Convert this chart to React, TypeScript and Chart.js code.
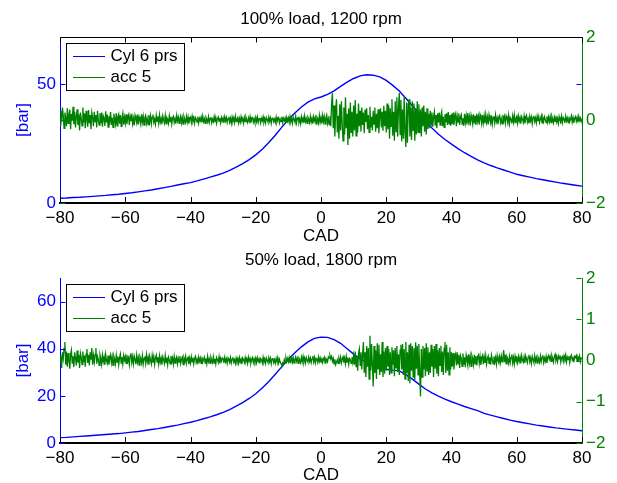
import React, { useEffect, useRef } from "react";
import { Chart, registerables } from "chart.js";

Chart.register(...registerables);

const FONT = '"Liberation Sans", Arial, Helvetica, sans-serif';
const BLUE = "#0000ff";
const GREEN = "#008000";

// ---------- data ----------
const panelTitles = ["100% load, 1200 rpm", "50% load, 1800 rpm"];
const seriesLabels = ["Cyl 6 prs", "acc 5"];
const xTitle = "CAD";
const yTitle = "[bar]";
const xTicks = [-80, -60, -40, -20, 0, 20, 40, 60, 80];
const leftTicksTop = [0, 50];
const leftTicksBottom = [0, 20, 40, 60];
const rightTicksTop = [-2, 0, 2];
const rightTicksBottom = [-2, -1, 0, 1, 2];

// crank angle grids (pressure every 2 deg, accelerometer every 0.25 deg)
const pressureCad = Array.from({ length: 81 }, (_, i) => -80 + 2 * i);
const accCad = Array.from({ length: 641 }, (_, i) => -80 + 0.25 * i);

const pressureTop = [
  2.0, 2.1, 2.3, 2.4, 2.6, 2.8, 3.0, 3.2, 3.5, 3.7,
  4.0, 4.3, 4.7, 5.1, 5.5, 6.0, 6.5, 7.0, 7.6, 8.1,
  8.6, 9.3, 10.1, 10.9, 11.7, 12.6, 13.8, 15.1, 16.6, 18.3,
  20.3, 22.7, 25.5, 28.6, 32.0, 35.2, 38.0, 40.5, 42.5, 43.9,
  44.7, 45.8, 47.3, 49.2, 51.0, 52.5, 53.6, 54.1, 53.9, 53.2,
  51.7, 49.6, 47.2, 44.2, 41.0, 37.8, 34.6, 31.6, 29.0, 26.8,
  24.8, 22.9, 21.2, 19.7, 18.2, 16.9, 15.8, 14.8, 13.9, 13.0,
  12.1, 11.5, 10.9, 10.3, 9.8, 9.3, 8.8, 8.3, 7.9, 7.5, 7.1,
];

const accTop = [
  -0.12, 0.22, -0.05, 0.30, 0.10, -0.20, 0.18, 0.05, -0.15, 0.28,
  -0.08, 0.12, 0.25, -0.22, 0.15, -0.02, 0.32, -0.10, 0.20, -0.18,
  0.08, 0.26, -0.12, 0.14, -0.25, 0.18, 0.04, -0.14, 0.30, -0.06,
  0.16, -0.20, 0.22, 0.02, -0.16, 0.24, -0.08, 0.12, -0.22, 0.18,
  0.06, -0.15, 0.20, -0.04, 0.12, -0.18, 0.22, 0.00, -0.12, 0.16,
  -0.08, 0.18, -0.16, 0.10, 0.04, -0.14, 0.21, -0.06, 0.13, -0.17,
  0.09, -0.02, 0.19, -0.12, 0.06, -0.18, 0.15, 0.03, -0.10, 0.17,
  -0.14, 0.08, 0.14, -0.09, 0.12, -0.15, 0.05, 0.16, -0.11, 0.07,
  -0.08, 0.14, -0.10, 0.06, 0.12, -0.12, 0.09, -0.03, 0.15, -0.09,
  0.04, -0.13, 0.11, 0.02, -0.07, 0.13, -0.11, 0.08, 0.01, -0.10,
  0.14, -0.05, 0.09, -0.12, 0.06, 0.11, -0.08, 0.03, -0.11, 0.12,
  -0.04, 0.10, -0.09, 0.07, 0.13, -0.06, 0.02, -0.10, 0.11, -0.03,
  0.09, -0.08, 0.12, -0.05, 0.04, -0.10, 0.10, 0.01, -0.07, 0.11,
  -0.09, 0.06, 0.02, -0.08, 0.10, -0.04, 0.08, -0.10, 0.05, 0.09,
  -0.06, 0.03, -0.09, 0.11, -0.02, 0.07, -0.08, 0.04, 0.10, -0.07,
  0.05, -0.10, 0.08, 0.00, -0.06, 0.09, -0.05, 0.07, -0.09, 0.04,
  0.07, -0.06, 0.09, -0.03, 0.05, -0.08, 0.06, 0.02, -0.05, 0.08,
  -0.07, 0.04, -0.02, 0.07, -0.06, 0.09, -0.04, 0.03, -0.08, 0.06,
  0.01, -0.05, 0.08, -0.06, 0.04, 0.07, -0.07, 0.02, -0.04, 0.08,
  -0.05, 0.06, -0.08, 0.03, 0.07, -0.03, 0.05, -0.07, 0.06, -0.02,
  0.05, -0.07, 0.08, -0.02, 0.06, -0.06, 0.03, 0.08, -0.05, 0.04,
  -0.08, 0.07, -0.03, 0.05, -0.06, 0.09, -0.04, 0.02, 0.06, -0.07,
  0.04, -0.05, 0.08, -0.02, 0.03, -0.08, 0.06, -0.04, 0.07, 0.00,
  -0.06, 0.05, -0.03, 0.08, -0.07, 0.04, 0.06, -0.05, 0.03, -0.06,
  0.06, -0.04, 0.07, -0.06, 0.03, 0.05, -0.07, 0.04, -0.02, 0.08,
  -0.05, 0.03, -0.07, 0.06, 0.01, -0.05, 0.07, -0.03, 0.05, -0.08,
  0.04, 0.06, -0.04, 0.02, -0.06, 0.07, -0.05, 0.03, 0.06, -0.07,
  0.02, -0.04, 0.08, -0.06, 0.04, -0.02, 0.05, -0.07, 0.06, -0.03,
  0.05, -0.06, 0.08, -0.04, 0.03, -0.08, 0.07, 0.01, -0.05, 0.09,
  -0.07, 0.04, 0.06, -0.06, 0.02, -0.09, 0.08, -0.03, 0.05, -0.07,
  0.10, -0.04, 0.03, -0.08, 0.07, 0.02, -0.06, 0.09, -0.05, 0.04,
  -0.09, 0.08, -0.02, 0.06, -0.10, 0.07, 0.03, -0.07, 0.11, -0.05,
  0.06, -0.09, 0.11, -0.04, 0.08, -0.10, 0.05, 0.12, -0.08, 0.03,
  -0.11, 0.09, -0.15, 0.40, 0.65, -0.20, 0.35, -0.40, 0.25, 0.50,
  -0.30, 0.10, -0.45, 0.38, -0.25, 0.45, -0.10, -0.50, 0.30, -0.35,
  0.55, -0.20, 0.15, -0.60, 0.28, -0.45, 0.42, -0.30, 0.20, -0.40,
  0.35, -0.25, 0.48, -0.38, 0.15, -0.30, 0.40, -0.15, 0.22, -0.28,
  0.30, -0.12, 0.18, -0.32, 0.25, -0.05, 0.28, -0.22, 0.12, -0.30,
  0.32, -0.18, 0.08, -0.25, 0.22, -0.10, 0.30, -0.28, 0.15, -0.20,
  0.26, -0.32, 0.10, 0.28, -0.18, 0.20, -0.26, 0.34, -0.15, 0.22,
  -0.30, 0.40, -0.22, 0.35, -0.45, 0.28, -0.15, 0.50, -0.38, 0.20,
  -0.50, 0.45, -0.28, 0.55, -0.40, 0.30, 0.65, -0.35, 0.48, -0.52,
  0.25, -0.45, 0.58, -0.30, -0.65, 0.42, -0.55, 0.38, 0.50, -0.40,
  0.30, -0.48, 0.45, -0.25, 0.40, -0.50, 0.28, -0.35, 0.45, -0.30,
  0.38, -0.32, 0.25, -0.40, 0.30, -0.15, 0.35, -0.28, 0.20, -0.35,
  0.28, -0.22, 0.15, -0.20, 0.22, -0.12, 0.18, -0.16, 0.08, 0.20,
  -0.14, 0.12, -0.20, 0.16, -0.06, 0.18, -0.12, 0.10, 0.20, -0.15,
  0.08, -0.18, 0.14, -0.05, 0.16, -0.12, 0.19, -0.09, 0.12, -0.14,
  0.15, -0.10, 0.18, -0.12, 0.06, 0.14, -0.15, 0.10, -0.05, 0.16,
  -0.12, 0.08, 0.13, -0.10, 0.04, -0.14, 0.15, -0.06, 0.10, -0.11,
  0.17, -0.04, 0.08, -0.13, 0.12, 0.02, -0.10, 0.14, -0.08, 0.10,
  -0.12, 0.15, -0.03, 0.09, -0.11, 0.13, 0.05, -0.09, 0.12, -0.07,
  0.10, -0.08, 0.13, -0.05, 0.07, -0.11, 0.12, 0.00, -0.08, 0.11,
  -0.10, 0.06, 0.09, -0.07, 0.12, -0.04, 0.05, -0.10, 0.08, 0.11,
  -0.06, 0.03, -0.09, 0.12, -0.02, 0.08, -0.08, 0.10, 0.04, -0.07,
  0.11, -0.09, 0.06, 0.02, -0.08, 0.10, -0.05, 0.12, -0.06, 0.04,
  0.09, -0.07, 0.10, -0.03, 0.06, -0.09, 0.08, 0.02, -0.06, 0.10,
  -0.08, 0.05, 0.11, -0.05, 0.03, -0.08, 0.09, -0.02, 0.07, -0.09,
  0.06, 0.10, -0.04, 0.05, -0.07, 0.09, -0.03, 0.08, -0.06, 0.02,
  0.10, -0.07, 0.05, -0.04, 0.08, 0.01, -0.06, 0.09, -0.05, 0.07,
  -0.04, 0.08, -0.06, 0.09, 0.02, -0.07, 0.07, -0.03, 0.10, -0.05,
  0.04, -0.08, 0.08, 0.00, -0.05, 0.09, -0.06, 0.06, 0.03, -0.07,
  0.09, -0.02, 0.05, -0.06, 0.08, -0.04, 0.02, 0.10, -0.05, 0.06,
  -0.07, 0.04, 0.08, -0.03, 0.06, -0.06, 0.09, -0.01, 0.05, -0.04,
  0.03,
];

const pressureBottom = [
  2.3, 2.4, 2.6, 2.8, 3.0, 3.2, 3.4, 3.6, 3.8, 4.0,
  4.3, 4.6, 4.9, 5.3, 5.7, 6.1, 6.6, 7.1, 7.6, 8.2,
  8.8, 9.5, 10.3, 11.1, 12.0, 13.0, 14.2, 15.6, 17.1, 18.9,
  20.9, 23.3, 26.1, 29.2, 32.4, 35.5, 38.3, 40.8, 42.9, 44.4,
  44.9, 44.8, 43.9, 42.3, 40.0, 37.7, 35.7, 34.2, 33.0, 32.0,
  31.3, 30.9, 30.6, 29.0, 27.1, 25.0, 22.9, 21.3, 19.9, 18.6,
  17.5, 16.5, 15.5, 14.6, 13.7, 12.6, 11.8, 11.1, 10.4, 9.7,
  9.1, 8.6, 8.1, 7.6, 7.2, 6.8, 6.4, 6.1, 5.8, 5.5, 5.2,
];

const accBottom = [
  -0.05, 0.12, -0.18, 0.20, 0.05, 0.30, 0.45, -0.10, 0.22, -0.15,
  0.18, 0.02, -0.20, 0.15, 0.25, -0.08, 0.10, -0.16, 0.20, 0.06,
  -0.12, 0.24, -0.05, 0.14, -0.18, 0.18, 0.08, -0.10, 0.22, -0.04,
  0.12, -0.15, 0.16, 0.28, -0.06, 0.14, -0.12, 0.20, 0.02, 0.30,
  -0.10, 0.12, -0.04, 0.15, 0.30, -0.08, 0.10, 0.02, -0.12, 0.14,
  0.05, -0.09, 0.13, -0.03, 0.08, -0.11, 0.15, 0.00, -0.07, 0.12,
  -0.10, 0.06, 0.14, -0.05, 0.09, -0.12, 0.11, 0.03, -0.08, 0.13,
  -0.04, 0.10, -0.10, 0.07, 0.16, -0.06, 0.08, -0.09, 0.12, 0.01,
  0.10, -0.07, 0.14, -0.02, 0.06, -0.10, 0.12, 0.18, -0.05, 0.09,
  -0.08, 0.11, 0.02, -0.09, 0.13, -0.04, 0.07, -0.11, 0.10, 0.04,
  -0.06, 0.12, -0.09, 0.05, 0.10, -0.07, 0.14, -0.03, 0.08, -0.10,
  0.11, 0.01, -0.08, 0.12, -0.05, 0.09, -0.10, 0.06, 0.13, -0.04,
  0.08, -0.09, 0.11, -0.04, 0.06, -0.10, 0.09, 0.02, -0.07, 0.12,
  -0.05, 0.07, -0.10, 0.08, 0.01, -0.08, 0.11, -0.03, 0.06, -0.09,
  0.10, -0.06, 0.04, 0.09, -0.08, 0.05, -0.04, 0.11, -0.07, 0.03,
  0.08, -0.10, 0.06, -0.02, 0.10, -0.07, 0.04, 0.08, -0.09, 0.05,
  -0.06, 0.09, -0.03, 0.07, -0.08, 0.05, 0.10, -0.05, 0.03, -0.09,
  0.08, -0.02, 0.06, -0.07, 0.09, -0.04, 0.02, 0.08, -0.06, 0.05,
  -0.08, 0.10, -0.03, 0.04, -0.07, 0.08, 0.01, -0.05, 0.09, -0.06,
  0.04, -0.08, 0.07, 0.02, -0.05, 0.09, -0.07, 0.05, -0.02, 0.06,
  0.05, -0.06, 0.08, -0.03, 0.04, -0.07, 0.06, 0.01, -0.05, 0.07,
  -0.06, 0.03, 0.08, -0.04, 0.02, -0.07, 0.06, -0.02, 0.05, -0.06,
  0.07, -0.04, 0.03, -0.08, 0.06, 0.02, -0.05, 0.07, -0.03, 0.04,
  -0.07, 0.08, -0.02, 0.05, -0.06, 0.03, 0.07, -0.05, 0.04, -0.03,
  0.06, -0.05, 0.07, -0.02, 0.04, -0.07, 0.05, 0.02, -0.06, 0.08,
  -0.04, 0.03, -0.07, 0.06, 0.00, -0.05, 0.07, -0.03, 0.05, -0.08,
  0.04, 0.06, -0.05, 0.02, -0.07, 0.05, -0.03, 0.07, -0.06, 0.03,
  -0.04, -0.08, -0.12, -0.06, -0.10, 0.02, -0.05, 0.06, -0.03, 0.05,
  -0.03, 0.07, -0.05, 0.04, 0.08, -0.04, 0.06, -0.06, 0.03, 0.09,
  -0.02, 0.05, -0.07, 0.06, 0.02, -0.05, 0.08, -0.03, 0.10, -0.04,
  0.05, -0.06, 0.07, 0.01, -0.04, 0.08, -0.02, 0.06, -0.05, 0.04,
  0.11, -0.03, 0.07, -0.06, 0.05, 0.02, -0.05, 0.09, -0.02, 0.06,
  -0.04, 0.07, -0.05, 0.03, 0.08, -0.06, 0.05, 0.02, -0.03, 0.09,
  0.06, 0.12, 0.04, 0.10, -0.02, 0.05, -0.08, 0.03, -0.10, -0.04,
  0.02, -0.07, 0.05, -0.03, 0.08, -0.06, 0.04, 0.09, -0.05, 0.06,
  -0.08, 0.10, -0.04, 0.07, -0.09, 0.05, 0.02, -0.07, 0.08, -0.05,
  0.12, -0.10, 0.22, -0.15, 0.08, -0.25, 0.18, 0.28, -0.12, 0.20,
  -0.22, 0.15, 0.45, -0.30, 0.20, -0.40, 0.35, -0.15, 0.30, -0.45,
  0.60, -0.25, 0.40, -0.10, -0.63, 0.35, -0.30, 0.25, -0.45, 0.42,
  -0.20, 0.38, -0.35, 0.15, -0.28, 0.45, -0.40, 0.22, -0.32, 0.30,
  -0.25, 0.35, -0.15, 0.28, -0.35, 0.20, -0.30, 0.32, -0.10, 0.25,
  -0.38, 0.30, -0.18, 0.35, -0.28, 0.15, -0.35, 0.25, 0.38, -0.22,
  0.40, -0.35, 0.28, -0.45, 0.45, -0.30, 0.20, -0.50, 0.38, -0.55,
  0.42, -0.25, 0.35, -0.40, 0.30, -0.48, 0.44, -0.20, 0.36, -0.35,
  0.40, -0.30, -0.87, 0.28, -0.40, 0.35, -0.22, 0.30, -0.38, 0.42,
  -0.25, 0.32, -0.35, 0.20, -0.30, 0.38, -0.15, 0.28, -0.40, 0.35,
  -0.20, 0.40, -0.32, 0.25, -0.38, 0.30, -0.12, 0.36, -0.28, 0.22,
  -0.35, 0.30, 0.45, -0.30, 0.38, -0.25, 0.20, -0.35, 0.32, -0.22,
  0.20, -0.15, 0.18, -0.22, 0.10, 0.16, -0.12, 0.20, -0.08, 0.14,
  -0.18, 0.12, 0.05, -0.14, 0.17, -0.10, 0.08, -0.16, 0.13, 0.02,
  -0.12, 0.15, -0.06, 0.10, -0.14, 0.12, 0.04, -0.10, 0.14, -0.08,
  0.11, -0.12, 0.09, 0.13, -0.07, 0.10, -0.11, 0.06, 0.12, -0.09,
  0.10, -0.06, 0.12, -0.09, 0.05, 0.11, -0.07, 0.08, -0.10, 0.13,
  0.02, -0.08, 0.10, -0.04, 0.07, -0.09, 0.12, 0.00, -0.06, 0.09,
  -0.05, 0.11, -0.03, 0.06, 0.25, -0.04, 0.14, -0.08, 0.09, 0.03,
  -0.07, 0.10, -0.05, 0.08, 0.15, -0.06, 0.07, -0.09, 0.11, 0.02,
  0.06, -0.05, 0.10, -0.02, 0.08, -0.07, 0.12, 0.01, -0.04, 0.09,
  -0.06, 0.11, 0.03, -0.05, 0.08, 0.14, -0.03, 0.06, -0.07, 0.10,
  0.02, -0.05, 0.12, -0.02, 0.07, -0.06, 0.09, 0.04, -0.04, 0.11,
  -0.03, 0.08, 0.13, -0.05, 0.06, -0.02, 0.10, -0.06, 0.07, 0.12,
  0.03, 0.10, -0.02, 0.12, 0.05, -0.04, 0.09, 0.15, 0.00, 0.08,
  -0.03, 0.11, 0.04, 0.13, -0.04, 0.07, 0.10, -0.02, 0.12, 0.05,
  0.14, -0.03, 0.08, 0.02, 0.11, -0.05, 0.09, 0.13, 0.01, 0.06,
  -0.04, 0.10, 0.07, 0.12, -0.02, 0.08, 0.03, 0.11, -0.03, 0.06,
  0.05,
];

// ---------- layout (pixels) ----------
type Spec = {
  title: string;
  pressure: number[];
  acc: number[];
  leftTicks: number[];
  rightTicks: number[];
  boxed: boolean;
  canvasTop: number;
  canvasHeight: number;
  areaTop: number;
  areaBottom: number;
  xTitlePad: number;
};

const panels: Spec[] = [
  {
    title: panelTitles[0], pressure: pressureTop, acc: accTop,
    leftTicks: leftTicksTop, rightTicks: rightTicksTop, boxed: true,
    canvasTop: 0, canvasHeight: 249, areaTop: 37, areaBottom: 203, xTitlePad: 2,
  },
  {
    title: panelTitles[1], pressure: pressureBottom, acc: accBottom,
    leftTicks: leftTicksBottom, rightTicks: rightTicksBottom, boxed: false,
    canvasTop: 249, canvasHeight: 240, areaTop: 29, areaBottom: 194, xTitlePad: 3,
  },
];

const LEFT_W = 60;
const RIGHT_W = 35;
const TICK = 5;

const fmt = (v: number | string) => {
  const n = Number(v);
  return n < 0 ? "\u2212" + Math.abs(n) : String(n);
};

const matlabPlugin = {
  id: "matlab",
  afterDatasetsDraw(chart: any, _args: any, opts: any) {
    const { ctx, chartArea: a } = chart;
    const sx = chart.scales.x;
    const sl = chart.scales.y;
    const sr = chart.scales.y2;
    const L = Math.round(a.left) + 0.5;
    const R = Math.round(a.right) - 0.5;
    const T = Math.round(a.top) + 0.5;
    const B = Math.round(a.bottom) - 1;
    ctx.save();
    ctx.lineWidth = 1;

    // x ticks (inward)
    ctx.strokeStyle = "#000";
    ctx.beginPath();
    for (const v of xTicks) {
      const px = Math.round(sx.getPixelForValue(v)) + 0.5;
      ctx.moveTo(px, B);
      ctx.lineTo(px, B - TICK);
      if (opts.boxed) {
        ctx.moveTo(px, T);
        ctx.lineTo(px, T + TICK);
      }
    }
    ctx.stroke();

    // left axis ticks (blue)
    ctx.strokeStyle = BLUE;
    ctx.beginPath();
    for (const v of opts.leftTicks) {
      const py = Math.round(sl.getPixelForValue(v)) + 0.5;
      ctx.moveTo(L, py);
      ctx.lineTo(L + TICK, py);
      if (opts.boxed) {
        ctx.moveTo(R, py);
        ctx.lineTo(R - TICK, py);
      }
    }
    ctx.stroke();

    // right axis ticks (green)
    ctx.strokeStyle = GREEN;
    ctx.beginPath();
    for (const v of opts.rightTicks) {
      const py = Math.round(sr.getPixelForValue(v)) + 0.5;
      ctx.moveTo(R, py);
      ctx.lineTo(R - TICK, py);
      if (opts.boxed) {
        ctx.moveTo(L, py);
        ctx.lineTo(L + TICK, py);
      }
    }
    ctx.stroke();

    // top border of the boxed panel
    if (opts.boxed) {
      ctx.strokeStyle = "#000";
      ctx.beginPath();
      ctx.moveTo(L, T);
      ctx.lineTo(R + 0.5, T);
      ctx.stroke();
    }

    // panel title
    ctx.fillStyle = "#000";
    ctx.font = `17px ${FONT}`;
    ctx.textAlign = "center";
    ctx.textBaseline = "alphabetic";
    ctx.fillText(opts.title, (a.left + a.right) / 2, a.top - 13);

    // legend box
    const lx = Math.round(a.left) + 6;
    const ly = Math.round(a.top) + 6;
    const lw = 118;
    const lh = 47;
    ctx.fillStyle = "#fff";
    ctx.fillRect(lx, ly, lw, lh);
    ctx.strokeStyle = "#000";
    ctx.lineWidth = 1;
    ctx.strokeRect(lx + 0.5, ly + 0.5, lw, lh);
    const ds = chart.data.datasets;
    ds.forEach((d: any, i: number) => {
      const yy = ly + 13 + i * 21.3;
      ctx.strokeStyle = d.borderColor;
      ctx.lineWidth = 1;
      ctx.beginPath();
      ctx.moveTo(lx + 7, Math.round(yy) + 0.5);
      ctx.lineTo(lx + 39, Math.round(yy) + 0.5);
      ctx.stroke();
      ctx.fillStyle = "#000";
      ctx.textAlign = "left";
      ctx.textBaseline = "middle";
      ctx.font = `17px ${FONT}`;
      ctx.fillText(d.label, lx + 44.5, yy);
    });
    ctx.restore();
  },
};

function Panel({ spec }: { spec: Spec }) {
  const ref = useRef<HTMLCanvasElement>(null);
  useEffect(() => {
    const canvas = ref.current;
    if (!canvas) return;
    const tickFont = { family: FONT, size: 17 };
    const chart = new Chart(canvas, {
      type: "line",
      data: {
        datasets: [
          {
            label: seriesLabels[0],
            data: pressureCad.map((c, i) => ({ x: c, y: spec.pressure[i] })),
            borderColor: BLUE,
            backgroundColor: BLUE,
            borderWidth: 1.4,
            pointRadius: 0,
            tension: 0,
            yAxisID: "y",
            order: 1,
          },
          {
            label: seriesLabels[1],
            data: accCad.map((c, i) => ({ x: c, y: spec.acc[i] })),
            borderColor: GREEN,
            backgroundColor: GREEN,
            borderWidth: 1.3,
            pointRadius: 0,
            tension: 0,
            yAxisID: "y2",
            order: 0,
          },
        ],
      },
      options: {
        responsive: false,
        animation: false,
        events: [],
        layout: { padding: { top: spec.areaTop, left: 0, right: 0, bottom: 0 } },
        plugins: {
          legend: { display: false },
          title: { display: false },
          tooltip: { enabled: false },
          matlab: {
            boxed: spec.boxed,
            title: spec.title,
            leftTicks: spec.leftTicks,
            rightTicks: spec.rightTicks,
          },
        } as any,
        scales: {
          x: {
            type: "linear",
            position: "bottom",
            min: -80,
            max: 80,
            afterBuildTicks: (s: any) => {
              s.ticks = xTicks.map((v) => ({ value: v }));
            },
            afterFit: (s: any) => {
              s.height = spec.canvasHeight - spec.areaBottom;
            },
            grid: { display: true, drawOnChartArea: false, drawTicks: false },
            border: { display: true, color: "#000", width: 2 },
            ticks: {
              color: "#000",
              font: tickFont,
              padding: 5,
              maxRotation: 0,
              autoSkip: false,
              callback: (v: any) => fmt(v),
            },
            title: {
              display: true,
              text: xTitle,
              color: "#000",
              font: tickFont,
              padding: { top: 0, bottom: spec.xTitlePad },
            },
          },
          y: {
            type: "linear",
            position: "left",
            min: 0,
            max: 70,
            afterBuildTicks: (s: any) => {
              s.ticks = spec.leftTicks.map((v) => ({ value: v }));
            },
            afterFit: (s: any) => {
              s.width = LEFT_W;
            },
            grid: { display: true, drawOnChartArea: false, drawTicks: false },
            border: { display: true, color: BLUE, width: 1 },
            ticks: { color: BLUE, font: tickFont, padding: 4, callback: (v: any) => fmt(v) },
            title: {
              display: true,
              text: yTitle,
              color: BLUE,
              font: tickFont,
              padding: { top: 13.4, bottom: 0 },
            },
          },
          y2: {
            type: "linear",
            position: "right",
            min: -2,
            max: 2,
            afterBuildTicks: (s: any) => {
              s.ticks = spec.rightTicks.map((v) => ({ value: v }));
            },
            afterFit: (s: any) => {
              s.width = RIGHT_W;
            },
            grid: { display: true, drawOnChartArea: false, drawTicks: false },
            border: { display: true, color: GREEN, width: 1 },
            ticks: { color: GREEN, font: tickFont, padding: 4, callback: (v: any) => fmt(v) },
          },
        },
      } as any,
      plugins: [matlabPlugin],
    });
    return () => chart.destroy();
  }, [spec]);

  return (
    <canvas
      ref={ref}
      width={617}
      height={spec.canvasHeight}
      style={{
        position: "absolute",
        left: 0,
        top: spec.canvasTop,
        width: 617,
        height: spec.canvasHeight,
      }}
    />
  );
}

export default function App() {
  return (
    <div
      style={{
        position: "absolute",
        left: 0,
        top: 0,
        width: 617,
        height: 483,
        overflow: "hidden",
        background: "#fff",
      }}
    >
      {panels.map((p, i) => (
        <Panel key={i} spec={p} />
      ))}
    </div>
  );
}
